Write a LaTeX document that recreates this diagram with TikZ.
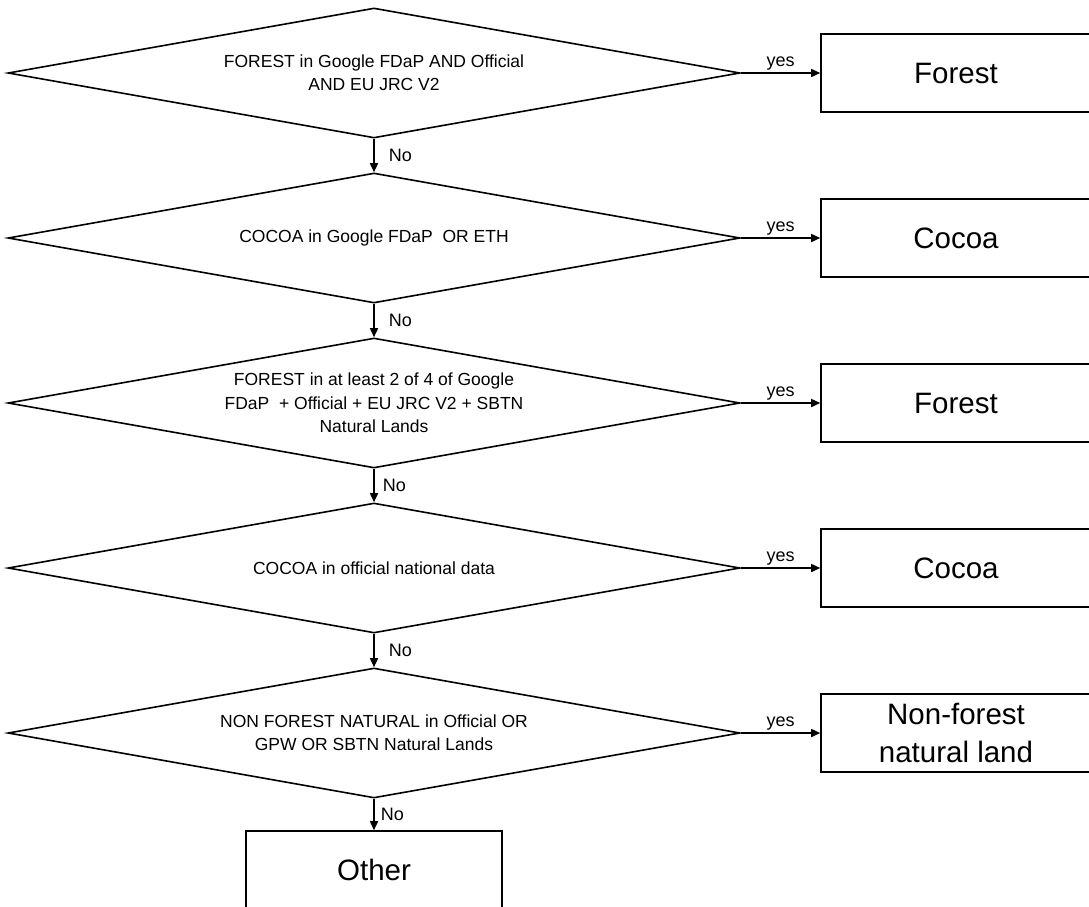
\documentclass[tikz,border=0pt]{standalone}
\usepackage{fontspec}
\setmainfont{Liberation Sans}
\usetikzlibrary{shapes.geometric,arrows.meta}
\tikzset{>={Triangle[length=9pt,width=8pt]}}
\tikzset{%
    decide/.style={draw, diamond, shape aspect=5.6, minimum width=732pt,
        minimum height=130pt, inner sep=0pt, align=center,
        font=\fontsize{17.5}{23.3}\selectfont, line width=1.6pt},
    result/.style={draw, rectangle, minimum width=270pt, minimum height=78pt,
        inner sep=0pt, align=center, font=\fontsize{29.5}{38}\selectfont, line width=1.6pt},
    ans/.style={font=\fontsize{18}{21}\selectfont, inner sep=2pt},
    flow/.style={->, line width=1.6pt}
}

\begin{document}
\begin{tikzpicture}[x=1pt,y=-1pt]
    \clip (0,0) rectangle (1089,906);
    \node[decide] (q1) at (374,73) {FOREST in Google FDaP AND Official\\AND EU JRC V2};
    \node[decide] (q2) at (374,238) {COCOA in Google FDaP~ OR ETH};
    \node[decide] (q3) at (374,403) {FOREST in at least 2 of 4 of Google\\FDaP~ + Official + EU JRC V2 + SBTN\\Natural Lands};
    \node[decide] (q4) at (374,568) {COCOA in official national data};
    \node[decide] (q5) at (374,733) {NON FOREST NATURAL in Official OR\\GPW OR SBTN Natural Lands};
    \node[result] (r1) at (956,73) {Forest};
    \node[result] (r2) at (956,238) {Cocoa};
    \node[result] (r3) at (956,403) {Forest};
    \node[result] (r4) at (956,568) {Cocoa};
    \node[result] (r5) at (956,733) {Non-forest\\natural land};
    \node[result, minimum width=256pt] (other) at (374,870) {Other};
    % yes branches
    \draw[flow] (q1.east) -- node[above,ans]{yes} (r1.west);
    \draw[flow] (q2.east) -- node[above,ans]{yes} (r2.west);
    \draw[flow] (q3.east) -- node[above,ans]{yes} (r3.west);
    \draw[flow] (q4.east) -- node[above,ans]{yes} (r4.west);
    \draw[flow] (q5.east) -- node[above,ans]{yes} (r5.west);
    % no branches
    \draw[flow] (q1.south) -- node[right,ans,xshift=12pt]{No} (q2.north);
    \draw[flow] (q2.south) -- node[right,ans,xshift=12pt]{No} (q3.north);
    \draw[flow] (q3.south) -- node[right,ans,xshift=6pt]{No} (q4.north);
    \draw[flow] (q4.south) -- node[right,ans,xshift=12pt]{No} (q5.north);
    \draw[flow] (q5.south) -- node[right,ans,xshift=4pt]{No} (other.north);
\end{tikzpicture}
\end{document}
